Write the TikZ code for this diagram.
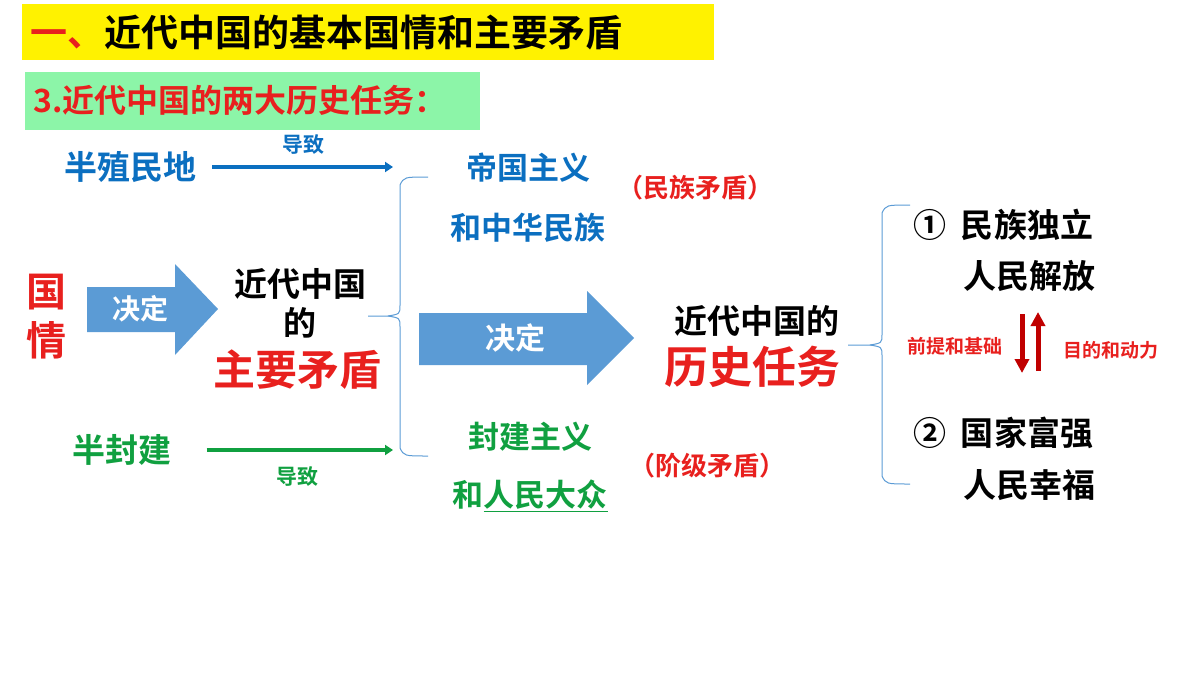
\documentclass[tikz,border=0pt]{standalone}
\usepackage{fontspec}
\setmainfont{Noto Sans CJK SC Bold}
\usepackage{tikz}
\usetikzlibrary{arrows.meta}
\definecolor{tBlue}{HTML}{0B6FC0}
\definecolor{tGreen}{HTML}{10A040}
\definecolor{tRed}{HTML}{E8201E}
\definecolor{tDark}{HTML}{C00000}
\definecolor{tArrow}{HTML}{5B9BD5}
\definecolor{tBanner}{HTML}{8CF5A8}
\begin{document}
\begin{tikzpicture}
[x=1pt,y=-1pt,
  txt/.style={inner sep=0pt,font=\fontsize{#1}{#1}\selectfont},%
  lineArrow/.style={line width=4pt,-{Triangle[length=8pt,width=10pt]}},%
  braceLine/.style={draw=tArrow,line width=1pt},%
  blockArrow/.style={fill=tArrow,draw=none}]
\useasboundingbox (0,0) rectangle (1200,675);
%% banners
\node (ban1) [fill=yellow,minimum width=692,minimum height=56,anchor=north west,inner sep=0pt] at (22,4) {};
\node (ttl1) [txt=37,anchor=west] at (30,33) {\textcolor{tRed}{一、}近代中国的基本国情和主要矛盾};
\node (ban2) [fill=tBanner,minimum width=455,minimum height=58,anchor=north west,inner sep=0pt] at (25,72) {};
\node (ttl2) [txt=32,anchor=west,text=tRed] at (33,100) {3.近代中国的两大历史任务：};
%% left column
\node (semicol) [txt=33,text=tBlue] at (130,167) {半殖民地};
\node (semifeu) [txt=33,text=tGreen] at (122,450) {半封建};
\node (guo) [txt=40,text=tRed] at (47,292) {国};
\node (qing) [txt=40,text=tRed] at (47,340) {情};
\fill[blockArrow] (87,287) -- (175,287) -- (175,264) -- (218,309) -- (175,355) -- (175,332) -- (87,332) -- cycle;
\node (jd1) [txt=28,text=white] at (140,309) {决定};
\node (mc1) [txt=33] at (300,284) {近代中国};
\node (mc2) [txt=33] at (300,323) {的};
\node (mc3) [txt=42,text=tRed] at (297,370) {主要矛盾};
%% first brace
\draw[braceLine] (428,177) .. controls (404,177) .. (400,185) -- (400,305) .. controls (400,314) .. (388,316) -- (368,316);
\draw[braceLine] (388,316) .. controls (400,318) .. (400,327) -- (400,448) .. controls (404,456) .. (428,456);
\draw[lineArrow,tBlue] (semicol.east) ++(16,0) coordinate (s1) (s1) -- (393,167) coordinate (e1);
\node (dz1) [txt=21,text=tBlue] at (303,145) {导致};
\draw[lineArrow,tGreen] (semifeu.east) ++(35,0) coordinate (s2) (s2) -- (393,450) coordinate (e2);
\node (dz2) [txt=21,text=tGreen] at (297,477) {导致};
%% contradictions
\node (imp1) [txt=31,text=tBlue] at (528,168) {帝国主义};
\node (imp2) [txt=31,text=tBlue] at (528,228) {和中华民族};
\node (nat) [txt=26,text=tRed] at (695,188) {（民族矛盾）};
\node (feu1) [txt=31,text=tGreen] at (530,437) {封建主义};
\node (feu2) [txt=31,text=tGreen] at (530,496) {和\underline{人民大众}};
\node (cls) [txt=26,text=tRed] at (707,466) {（阶级矛盾）};
%% second arrow
\fill[blockArrow] (419,313) -- (587,313) -- (587,291) -- (634,338) -- (587,385) -- (587,365) -- (419,365) -- cycle;
\node (jd2) [txt=30,text=white] at (515,338) {决定};
\node (task1) [txt=33] at (757,321) {近代中国的};
\node (task2) [txt=44,text=tRed] at (752,367) {历史任务};
%% second brace
\draw[braceLine] (910,205) .. controls (886,205) .. (882,213) -- (882,334) .. controls (882,343) .. (870,345) -- (848,345);
\draw[braceLine] (870,345) .. controls (882,347) .. (882,356) -- (882,476) .. controls (886,484) .. (910,484);
%% tasks
\node (t1) [txt=33] at (1003,225) {①\ \ 民族独立};
\node (t2) [txt=33] at (1029,276) {人民解放};
\node (t3) [txt=33] at (1003,433) {②\ \ 国家富强};
\node (t4) [txt=33] at (1029,485) {人民幸福};
\node (pre) [txt=19,text=tRed] at (955,346) {前提和基础};
\node (aim) [txt=19,text=tRed] at (1111,350) {目的和动力};
\coordinate (dnA) at (1022,314);
\coordinate (dnB) at (1022,373);
\coordinate (upA) at (1038,371);
\coordinate (upB) at (1038,312);
\draw[tDark,line width=5pt,-{Triangle[length=14pt,width=14pt]}] (dnA) -- (dnB);
\draw[tDark,line width=5pt,-{Triangle[length=14pt,width=14pt]}] (upA) -- (upB);
\end{tikzpicture}
\end{document}
